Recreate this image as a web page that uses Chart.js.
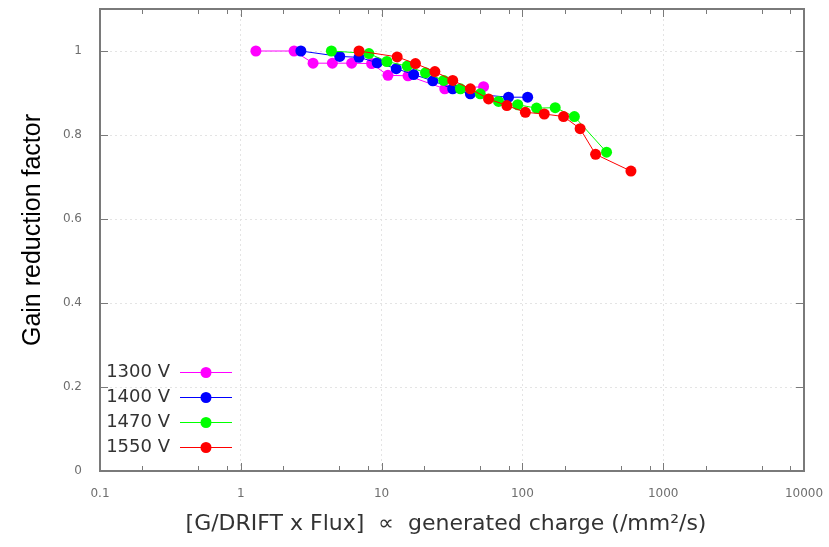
<!DOCTYPE html>
<html>
<head>
<meta charset="utf-8">
<script src="https://cdn.jsdelivr.net/npm/chart.js@4/dist/chart.umd.min.js"></script>
<style>
  html, body { margin: 0; padding: 0; background: #fff; }
  #chart { display: block; }
</style>
</head>
<body>
<canvas id="chart" width="829" height="547"></canvas>
<script>
// ── Data ──

var seriesLabels = ["1300 V", "1400 V", "1470 V", "1550 V"];
var seriesColors = ["#ff00ff", "#0000ff", "#00ff00", "#ff0000"];

var x1300 = [1.28, 2.39, 3.26, 4.47, 6.13, 8.49, 11.1, 15.4, 28.1, 53.0];
var y1300 = [1.0, 1.0, 0.971, 0.971, 0.971, 0.970, 0.942, 0.941, 0.910, 0.915];

var x1400 = [2.67, 5.04, 6.91, 9.31, 12.7, 16.9, 23.1, 32.0, 42.7, 79.7, 109];
var y1400 = [1.0, 0.987, 0.985, 0.972, 0.958, 0.944, 0.929, 0.910, 0.898, 0.890, 0.890];

var x1470 = [4.40, 8.13, 10.9, 15.2, 20.5, 27.6, 36.3, 50.2, 67.7, 92.7, 126, 171, 234, 396];
var y1470 = [1.0, 0.994, 0.975, 0.964, 0.948, 0.930, 0.910, 0.898, 0.880, 0.872, 0.864, 0.865, 0.844, 0.759];

var x1550 = [6.91, 12.9, 17.4, 23.9, 32.0, 42.7, 57.5, 77.6, 105, 143, 196, 257, 331, 590];
var y1550 = [1.0, 0.986, 0.970, 0.951, 0.930, 0.910, 0.886, 0.870, 0.854, 0.850, 0.844, 0.815, 0.754, 0.714];

var xTickValues = [0.1, 1, 10, 100, 1000, 10000];
var xMinorSteps = [2, 5, 8];
var yTickValues = [0, 0.2, 0.4, 0.6, 0.8, 1];

var xTitle = "[G/DRIFT x Flux]  \u221D  generated charge (/mm\u00B2/s)";
var yTitle = "Gain reduction factor";

// ── Helpers ──

function toPoints(xs, ys) {
    return xs.map(function (x, i) { return { x: x, y: ys[i] }; });
}

var allX = [x1300, x1400, x1470, x1550];
var allY = [y1300, y1400, y1470, y1550];

var datasets = seriesLabels.map(function (label, i) {
    return {
        label: label,
        data: toPoints(allX[i], allY[i]),
        borderColor: seriesColors[i],
        backgroundColor: seriesColors[i],
        borderWidth: 1,
        pointRadius: 5.5,
        pointBorderWidth: 0,
        pointBackgroundColor: seriesColors[i],
        tension: 0,
        order: seriesLabels.length - i   // later series drawn on top
    };
});

var FRAME = "#7a7a7a";
var TICK_FONT = { family: "'DejaVu Sans', Verdana, sans-serif", size: 12 };

function noEdgePadding(scale) {
    scale.paddingTop = 0;
    scale.paddingBottom = 0;
    scale.paddingLeft = 0;
    scale.paddingRight = 0;
}

// frame, inward ticks, in-plot legend and axis titles
var decorPlugin = {
    id: "decor",
    afterDraw: function (chart) {
        var ctx = chart.ctx;
        var a = chart.chartArea;
        var xs = chart.scales.x;
        var ys = chart.scales.y;

        ctx.save();
        ctx.strokeStyle = FRAME;
        ctx.lineWidth = 2;
        ctx.strokeRect(a.left, a.top, a.right - a.left, a.bottom - a.top);

        ctx.lineWidth = 1;
        ctx.beginPath();
        yTickValues.forEach(function (v) {
            var py = Math.round(ys.getPixelForValue(v)) + 0.5;
            ctx.moveTo(a.left, py); ctx.lineTo(a.left + 8, py);
            ctx.moveTo(a.right, py); ctx.lineTo(a.right - 8, py);
        });
        xTickValues.forEach(function (v, k) {
            var px = Math.round(xs.getPixelForValue(v)) + 0.5;
            ctx.moveTo(px, a.bottom); ctx.lineTo(px, a.bottom - 8);
            ctx.moveTo(px, a.top); ctx.lineTo(px, a.top + 8);
            if (k < xTickValues.length - 1) {
                xMinorSteps.forEach(function (m) {
                    var mx = Math.round(xs.getPixelForValue(v * m)) + 0.5;
                    ctx.moveTo(mx, a.bottom); ctx.lineTo(mx, a.bottom - 5);
                    ctx.moveTo(mx, a.top); ctx.lineTo(mx, a.top + 5);
                });
            }
        });
        ctx.stroke();

        // legend, bottom-left inside the plot
        ctx.font = "18px 'DejaVu Sans', Verdana, sans-serif";
        ctx.textAlign = "right";
        ctx.textBaseline = "middle";
        chart.data.datasets.forEach(function (ds, i) {
            var ly = 372.5 + i * 25;
            ctx.fillStyle = "#333";
            ctx.fillText(ds.label, 170, ly);
            ctx.strokeStyle = ds.borderColor;
            ctx.lineWidth = 1;
            ctx.beginPath();
            ctx.moveTo(180, ly); ctx.lineTo(232, ly);
            ctx.stroke();
            ctx.fillStyle = ds.borderColor;
            ctx.beginPath();
            ctx.arc(206, ly, 5.5, 0, Math.PI * 2);
            ctx.fill();
        });

        // axis titles
        ctx.fillStyle = "#333";
        ctx.textAlign = "center";
        ctx.font = "22px 'DejaVu Sans', Verdana, sans-serif";
        ctx.fillText(xTitle, 446, 524);

        ctx.fillStyle = "#000";
        ctx.font = "25px 'Liberation Sans', Arial, sans-serif";
        ctx.translate(33, 230);
        ctx.rotate(-Math.PI / 2);
        ctx.fillText(yTitle, 0, 0);
        ctx.restore();
    }
};

// ── Chart ──

var chart = new Chart(document.getElementById("chart"), {
    type: "line",
    data: { datasets: datasets },
    options: {
        responsive: false,
        devicePixelRatio: 1,
        animation: false,
        layout: { padding: { left: 0, right: 25, top: 9, bottom: 0 } },
        plugins: {
            legend: { display: false },
            tooltip: { enabled: false }
        },
        scales: {
            x: {
                type: "logarithmic",
                min: 0.1,
                max: 10000,
                afterBuildTicks: function (scale) {
                    scale.ticks = xTickValues.map(function (v) { return { value: v }; });
                },
                afterFit: function (scale) {
                    scale.height = 76;
                    noEdgePadding(scale);
                },
                ticks: {
                    autoSkip: false,
                    maxRotation: 0,
                    padding: 16,
                    color: "#6e6e6e",
                    font: TICK_FONT,
                    callback: function (v) { return String(v); }
                },
                grid: { color: "#e4e4e4", drawTicks: false },
                border: { display: false, dash: [2, 3] }
            },
            y: {
                min: 0,
                max: 1.1,
                afterBuildTicks: function (scale) {
                    scale.ticks = yTickValues.map(function (v) { return { value: v }; });
                },
                afterFit: function (scale) {
                    scale.width = 100;
                    noEdgePadding(scale);
                },
                ticks: {
                    padding: 18,
                    color: "#6e6e6e",
                    font: TICK_FONT,
                    callback: function (v) { return String(v); }
                },
                grid: { color: "#e4e4e4", drawTicks: false },
                border: { display: false, dash: [2, 3] }
            }
        }
    },
    plugins: [decorPlugin]
});
</script>
</body>
</html>
